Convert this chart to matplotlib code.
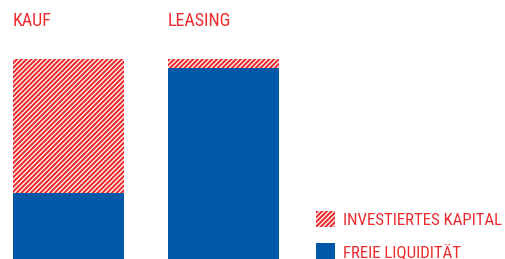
import matplotlib
matplotlib.use("Agg")
import matplotlib.pyplot as plt
from matplotlib.patches import Patch

# Werte (Anteil in %)
kategorien = ["KAUF", "LEASING"]
freie_liquiditaet = [33, 95.5]
investiertes_kapital = [67, 4.5]
legende = ["INVESTIERTES KAPITAL", "FREIE LIQUIDITÄT"]

ROT = "#ec2a2d"
BLAU = "#0058a7"
SCHRAFFUR = "///////"

plt.rcParams["font.family"] = ["Roboto Condensed", "Archivo Narrow", "DejaVu Sans"]
plt.rcParams["font.stretch"] = "condensed"
plt.rcParams["hatch.linewidth"] = 1.5
plt.rcParams["hatch.color"] = ROT

fig = plt.figure(figsize=(5.06, 2.59), dpi=100)
ax = fig.add_axes([0, 0, 1, 1])

x = range(len(kategorien))
breite = 0.716
ax.bar(x, freie_liquiditaet, width=breite, color=BLAU, align="center", linewidth=0)
ax.bar(x, investiertes_kapital, width=breite, bottom=freie_liquiditaet,
       color="white", hatch=SCHRAFFUR, edgecolor=ROT, linewidth=0)

for i, k in enumerate(kategorien):
    ax.text(i - breite / 2, 116.5, k, color=ROT, fontsize=13,
            ha="left", va="baseline")

griffe = [Patch(facecolor="white", edgecolor=ROT, hatch=SCHRAFFUR, linewidth=0),
          Patch(facecolor=BLAU, linewidth=0)]
leg = ax.legend(griffe, legende, loc="lower left", bbox_to_anchor=(0.625, -0.004),
                frameon=False, fontsize=12.2, handlelength=1.1, handleheight=1.08,
                handletextpad=0.45, labelspacing=0.9, borderpad=0, borderaxespad=0)
for t in leg.get_texts():
    t.set_color(ROT)

ax.set_xlim(-0.442, 2.823)
ax.set_ylim(0, 129.5)
ax.axis("off")

fig.savefig("out.png", dpi=100)
